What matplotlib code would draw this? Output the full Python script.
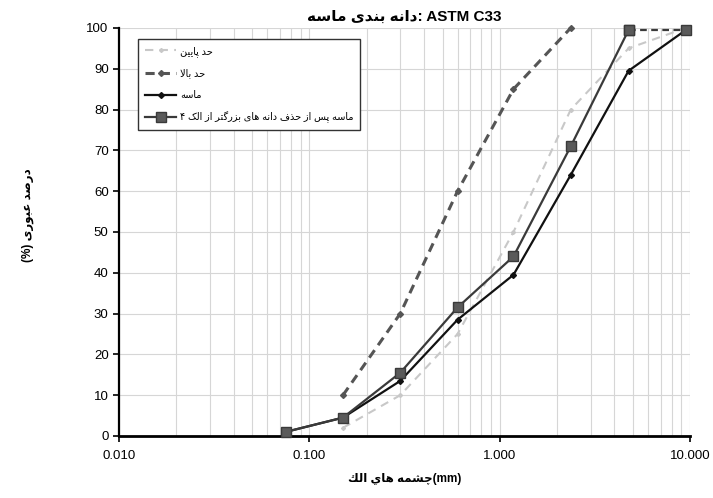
import matplotlib
matplotlib.use('Agg')
import matplotlib.pyplot as plt
from matplotlib.ticker import FixedLocator, FixedFormatter, LogLocator, NullFormatter

# sieve sizes (mm) and percent passing
sieve = [0.075, 0.15, 0.3, 0.6, 1.18, 2.36, 4.75, 9.5]
lower_x = [0.15, 0.3, 0.6, 1.18, 2.36, 4.75, 9.5]
lower = [2, 10, 25, 50, 80, 95, 100]
upper_x = [0.15, 0.3, 0.6, 1.18, 2.36]
upper = [10, 30, 60, 85, 100]
sand = [1, 4.5, 13.5, 28.5, 39.5, 64, 89.5, 99.5]
sand_mod = [1, 4.5, 15.5, 31.5, 44, 71, 99.5, 99.5]

x_ticks = [0.01, 0.1, 1, 10]
x_labels = ['0.010', '0.100', '1.000', '10.000']
y_ticks = list(range(0, 101, 10))

# --- minimal persian shaping (matplotlib has no bidi / joining) ---
FORMS = {
    'ا': (0xFE8D, 0xFE8E, 0xFE8D, 0xFE8E), 'ب': (0xFE8F, 0xFE90, 0xFE91, 0xFE92),
    'ت': (0xFE95, 0xFE96, 0xFE97, 0xFE98), 'ح': (0xFEA1, 0xFEA2, 0xFEA3, 0xFEA4),
    'د': (0xFEA9, 0xFEAA, 0xFEA9, 0xFEAA), 'ذ': (0xFEAB, 0xFEAC, 0xFEAB, 0xFEAC),
    'ر': (0xFEAD, 0xFEAE, 0xFEAD, 0xFEAE), 'ز': (0xFEAF, 0xFEB0, 0xFEAF, 0xFEB0),
    'س': (0xFEB1, 0xFEB2, 0xFEB3, 0xFEB4), 'ش': (0xFEB5, 0xFEB6, 0xFEB7, 0xFEB8),
    'ص': (0xFEB9, 0xFEBA, 0xFEBB, 0xFEBC), 'ع': (0xFEC9, 0xFECA, 0xFECB, 0xFECC),
    'ف': (0xFED1, 0xFED2, 0xFED3, 0xFED4), 'ك': (0xFED9, 0xFEDA, 0xFEDB, 0xFEDC),
    'ل': (0xFEDD, 0xFEDE, 0xFEDF, 0xFEE0), 'م': (0xFEE1, 0xFEE2, 0xFEE3, 0xFEE4),
    'ن': (0xFEE5, 0xFEE6, 0xFEE7, 0xFEE8), 'ه': (0xFEE9, 0xFEEA, 0xFEEB, 0xFEEC),
    'و': (0xFEED, 0xFEEE, 0xFEED, 0xFEEE), 'ي': (0xFEF1, 0xFEF2, 0xFEF3, 0xFEF4),
    'پ': (0xFB56, 0xFB57, 0xFB58, 0xFB59), 'چ': (0xFB7A, 0xFB7B, 0xFB7C, 0xFB7D),
    'ک': (0xFB8E, 0xFB8F, 0xFB90, 0xFB91), 'گ': (0xFB92, 0xFB93, 0xFB94, 0xFB95),
    'ی': (0xFBFC, 0xFBFD, 0xFBFE, 0xFBFF), '\uFEFB': (0xFEFB, 0xFEFC, 0xFEFB, 0xFEFC),
}
RIGHT_ONLY = set('ادذرزو\uFEFB')


def shape_word(w):
    w = w.replace('لا', '\uFEFB')
    out = []
    for i, c in enumerate(w):
        if c not in FORMS:
            out.append(c)
            continue
        prev = w[i - 1] if i > 0 else None
        nxt = w[i + 1] if i + 1 < len(w) else None
        jp = prev in FORMS and prev not in RIGHT_ONLY
        jn = nxt in FORMS and c not in RIGHT_ONLY
        idx = 3 if (jp and jn) else 1 if jp else 2 if jn else 0
        out.append(chr(FORMS[c][idx]))
    return ''.join(reversed(out))


def fa(s):
    # right-to-left: last word drawn first
    return ' '.join(shape_word(w) for w in reversed(s.split(' ')))


FONT = ['Liberation Sans', 'DejaVu Sans']
plt.rcParams['font.family'] = FONT

fig = plt.figure(figsize=(7.13, 4.98), dpi=100)
ax = fig.add_axes([0.167, 0.1245, 0.801, 0.8195])

ax.plot(lower_x, lower, color='#c8c8c8', ls=(0, (4, 3)), lw=1.5, marker='D', ms=2,
        label=fa('حد پایین'), clip_on=False)
ax.plot(upper_x, upper, color='#555555', ls=(0, (3, 2)), lw=2.2, marker='D', ms=3,
        label=fa('حد بالا'), clip_on=False)
ax.plot(sieve, sand, color='#111111', lw=1.6, marker='D', ms=3,
        label=fa('ماسه'), clip_on=False)
ax.plot(sieve[:7], sand_mod[:7], color='#3a3a3a', lw=1.6, marker='s', ms=7,
        mfc='#5a5a5a', mec='#3a3a3a', label=fa('ماسه پس از حذف دانه های بزرگتر از الک ۴'),
        clip_on=False, zorder=3)
ax.plot(sieve[6:], sand_mod[6:], color='#3a3a3a', lw=1.6, ls=(0, (3, 2)), marker='s', ms=7,
        mfc='#5a5a5a', mec='#3a3a3a', clip_on=False, zorder=3)

ax.set_xscale('log')
ax.set_xlim(0.01, 10)
ax.set_ylim(0, 100)
ax.xaxis.set_major_locator(FixedLocator(x_ticks))
ax.xaxis.set_major_formatter(FixedFormatter(x_labels))
ax.xaxis.set_minor_locator(LogLocator(base=10, subs=range(2, 10)))
ax.xaxis.set_minor_formatter(NullFormatter())
ax.set_yticks(y_ticks)

ax.grid(True, which='major', color='#d6d6d6', lw=0.8)
ax.grid(True, which='minor', axis='x', color='#d6d6d6', lw=0.8)
ax.set_axisbelow(True)

for s in ['top', 'right']:
    ax.spines[s].set_visible(False)
ax.spines['left'].set_linewidth(1.6)
ax.spines['bottom'].set_linewidth(2)
ax.tick_params(axis='both', which='major', labelsize=9.5, length=4, width=1.2, direction='out')
ax.tick_params(axis='x', which='minor', length=0)
ax.tick_params(axis='x', pad=6)

ax.set_title(fa('دانه بندی ماسه') + ': ASTM C33', fontsize=11, fontweight='bold', pad=5)
ax.set_xlabel(fa('چشمه هاي الك') + '(mm)', fontsize=8.5, fontweight='bold', labelpad=8)
ax.set_ylabel('(%) ' + fa('درصد عبوری'), fontsize=8.5, fontweight='bold', rotation=90)
ax.yaxis.set_label_coords(-0.16, 0.54)
ax.yaxis.label.set_va('center')

leg = ax.legend(loc='upper left', bbox_to_anchor=(0.025, 0.985), fontsize=7, frameon=True,
                fancybox=False, edgecolor='#333333', framealpha=1, handlelength=3.2,
                labelspacing=1.2, borderpad=0.7, handletextpad=0.4)
leg.get_frame().set_linewidth(1)

fig.savefig('out.png', dpi=100)
